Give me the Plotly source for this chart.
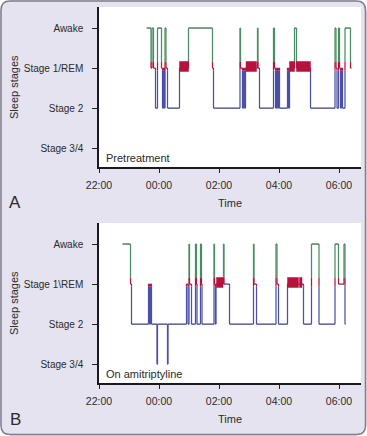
import plotly.graph_objects as go
from datetime import datetime

# ---------------- data ----------------
stage_ticktext_a = ["Stage 3/4", "Stage 2", "Stage 1/REM", "Awake"]
stage_ticktext_b = ["Stage 3/4", "Stage 2", "Stage 1\\REM", "Awake"]
stage_tickvals = [1, 2, 3, 4]
stage_level = {"S34": 1, "S2": 2, "S1": 3, "W": 4}

# Panel A (pretreatment): stage change points
a_times = ["23:35", "23:44", "23:46", "23:49", "23:53", "23:57", "00:05", "00:07",
           "00:09", "00:11", "00:12", "00:14", "00:17", "00:41", "00:59", "01:47",
           "01:49", "02:42", "02:43", "02:47", "02:49", "02:51", "02:53", "03:17",
           "03:18", "03:21", "03:49", "03:51", "03:53", "03:55", "03:57", "03:59",
           "04:01", "04:17", "04:19", "04:21", "04:31", "04:35", "05:03", "05:52",
           "05:54", "05:56", "05:59", "06:01", "06:03", "06:05", "06:07", "06:12",
           "06:23"]
a_stages = ["W", "S1", "W", "S1", "S2", "W", "S1", "S2",
            "S1", "S2", "W", "S1", "S2", "S1", "W", "S1",
            "S2", "W", "S1", "S2", "S1", "S2", "S1", "W",
            "S1", "S2", "W", "S1", "S2", "S1", "S2", "S1",
            "S2", "S1", "S2", "S1", "W", "S1", "S2", "W",
            "S1", "S2", "W", "S1", "S2", "S1", "S2", "W",
            "S1"]
a_end = "06:25"
a_rem_start = ["00:41", "02:54", "04:21", "04:35"]
a_rem_end = ["00:59", "03:15", "04:31", "05:03"]

# Panel B (on amitriptyline)
b_times = ["22:47", "23:03", "23:05", "23:39", "23:41", "23:43", "23:45", "23:56",
           "23:57", "00:17", "00:18", "00:55", "00:58", "01:00", "01:01", "01:05",
           "01:13", "01:15", "01:16", "01:23", "01:25", "01:26", "01:50", "01:51",
           "01:53", "01:54", "02:09", "02:10", "02:21", "03:09", "03:10", "03:15",
           "03:54", "03:56", "03:59", "04:17", "04:49", "05:05", "05:20", "05:52",
           "05:59", "06:10", "06:12"]
b_stages = ["W", "S1", "S2", "S1", "S2", "S1", "S2", "S34",
            "S2", "S34", "S2", "S1", "S2", "W", "S1", "S2",
            "W", "S1", "S2", "W", "S1", "S2", "W", "S1",
            "S2", "S1", "W", "S1", "S2", "W", "S1", "S2",
            "W", "S1", "S2", "S1", "S2", "W", "S2", "W",
            "S1", "W", "S2"]
b_end = "06:13"
b_rem_start = ["01:55", "04:17", "04:41"]
b_rem_end = ["02:08", "04:39", "04:46"]

x_start, x_stop = "22:00", "06:44"

# ---------------- styling ----------------
W, H = 367, 436
COLORS = {"g": "#4a8c61", "gh": "#2f6443", "r": "#b5123d",
          "b": "#4b50a6", "bh": "#3a3d80"}
RED = COLORS["r"]
BG = "#e5e3ef"
FONT = "Liberation Sans, Arial, sans-serif"
TXT = "#2b2b2b"
RED_LO, RED_HI = 2.94, 3.15  # colour band around Stage 1


def to_dt(hhmm):
    h, m = map(int, hhmm.split(":"))
    day = 1 if h >= 12 else 2
    return datetime(2000, 1, day, h, m)


def band_color(y):
    if y > RED_HI:
        return "g"
    if y >= RED_LO:
        return "r"
    return "b"


def build_paths(times, stages, end):
    segs = {k: ([], []) for k in COLORS}

    def add(c, x0, y0, x1, y1):
        xs, ys = segs[c]
        xs += [x0, x1, None]
        ys += [y0, y1, None]

    ts = [to_dt(t) for t in times] + [to_dt(end)]
    lv = [stage_level[s] for s in stages]
    for i, L in enumerate(lv):
        t0, t1 = ts[i], ts[i + 1]
        add("gh" if L == 4 else "bh", t0, L, t1, L)
        if i + 1 < len(lv):
            L2 = lv[i + 1]
            lo, hi = min(L, L2), max(L, L2)
            pts = sorted({lo, hi} | {b for b in (RED_LO, RED_HI) if lo < b < hi})
            for y0, y1 in zip(pts[:-1], pts[1:]):
                add(band_color((y0 + y1) / 2), t1, y0, t1, y1)
    return segs


def add_panel(fig, times, stages, end, rs, re_, xa, ya):
    segs = build_paths(times, stages, end)
    for c in ("bh", "gh", "b", "g", "r"):
        xs, ys = segs[c]
        fig.add_trace(go.Scatter(x=xs, y=ys, mode="lines", xaxis=xa, yaxis=ya,
                                 line=dict(color=COLORS[c], width=1.25),
                                 hoverinfo="skip", showlegend=False))
    for s, e in zip(rs, re_):
        x0, x1 = to_dt(s), to_dt(e)
        c, h = 3.04, 0.125
        fig.add_trace(go.Scatter(x=[x0, x1, x1, x0, x0], y=[c - h, c - h, c + h, c + h, c - h],
                                 mode="lines", fill="toself", fillcolor=RED,
                                 line=dict(color=RED, width=0.5), xaxis=xa, yaxis=ya,
                                 hoverinfo="skip", showlegend=False))


fig = go.Figure()
add_panel(fig, a_times, a_stages, a_end, a_rem_start, a_rem_end, "x", "y")
add_panel(fig, b_times, b_stages, b_end, b_rem_start, b_rem_end, "x2", "y2")


def px(x):
    return x / W


def py(y):
    return 1 - y / H


xcommon = dict(type="date", range=[to_dt(x_start), to_dt(x_stop)], tick0=to_dt("22:00"),
               dtick=7200000, tickformat="%H:%M", ticks="outside", ticklen=4, tickwidth=1,
               tickcolor="#222", showline=True, linecolor="#1a1a1a", linewidth=1.7,
               showgrid=False, zeroline=False, tickfont=dict(family=FONT, size=10.5, color=TXT),
               ticklabelstandoff=4, fixedrange=True, automargin=False)
ycommon = dict(range=[0.53, 4.525], tickvals=stage_tickvals, ticks="outside", ticklen=5,
               tickwidth=1, tickcolor="#222", showline=True, linecolor="#1a1a1a",
               linewidth=1.5, showgrid=False, zeroline=False,
               tickfont=dict(family=FONT, size=10, color=TXT), ticklabelstandoff=7,
               fixedrange=True, automargin=False)

fig.update_layout(
    width=W, height=H, margin=dict(l=0, r=0, t=0, b=0, autoexpand=False),
    paper_bgcolor=BG, plot_bgcolor="white", showlegend=False,
    xaxis=dict(xcommon, domain=[px(99), px(361)], anchor="y"),
    yaxis=dict(ycommon, domain=[py(167), py(7)], anchor="x", ticktext=stage_ticktext_a),
    xaxis2=dict(xcommon, domain=[px(99), px(361)], anchor="y2"),
    yaxis2=dict(ycommon, domain=[py(383), py(223)], anchor="x2", ticktext=stage_ticktext_b),
)

ann = []
for off, letter, label in ((0, "A", "Pretreatment"), (216, "B", "On amitriptyline")):
    ann.append(dict(text="Sleep stages", x=px(14), y=py(87 + off), textangle=-90,
                    font=dict(family=FONT, size=11, color=TXT)))
    ann.append(dict(text="Time", x=px(230), y=py(203 + off),
                    font=dict(family=FONT, size=11, color=TXT)))
    ann.append(dict(text=letter, x=px(15), y=py(203 + off),
                    font=dict(family=FONT, size=17, color=TXT)))
    ann.append(dict(text=label, x=px(104), y=py(158 + off), xanchor="left",
                    font=dict(family=FONT, size=11, color=TXT)))
for a in ann:
    a.update(xref="paper", yref="paper", showarrow=False)
    a.setdefault("xanchor", "center")
    a["yanchor"] = "middle"
fig.update_layout(annotations=ann)

# rounded frame
x0, y0, x1, y1, r = 1.0, 1.0, 365.5, 434.5, 9
frame = (f"M {px(x0 + r)},{py(y0)} L {px(x1 - r)},{py(y0)} Q {px(x1)},{py(y0)} {px(x1)},{py(y0 + r)} "
         f"L {px(x1)},{py(y1 - r)} Q {px(x1)},{py(y1)} {px(x1 - r)},{py(y1)} "
         f"L {px(x0 + r)},{py(y1)} Q {px(x0)},{py(y1)} {px(x0)},{py(y1 - r)} "
         f"L {px(x0)},{py(y0 + r)} Q {px(x0)},{py(y0)} {px(x0 + r)},{py(y0)} Z")
corners = [
    f"M {px(0)},{py(0)} L {px(x0 + r)},{py(0)} L {px(x0 + r)},{py(y0)} Q {px(x0)},{py(y0)} {px(x0)},{py(y0 + r)} L {px(0)},{py(y0 + r)} Z",
    f"M {px(W)},{py(0)} L {px(x1 - r)},{py(0)} L {px(x1 - r)},{py(y0)} Q {px(x1)},{py(y0)} {px(x1)},{py(y0 + r)} L {px(W)},{py(y0 + r)} Z",
    f"M {px(0)},{py(H)} L {px(x0 + r)},{py(H)} L {px(x0 + r)},{py(y1)} Q {px(x0)},{py(y1)} {px(x0)},{py(y1 - r)} L {px(0)},{py(y1 - r)} Z",
    f"M {px(W)},{py(H)} L {px(x1 - r)},{py(H)} L {px(x1 - r)},{py(y1)} Q {px(x1)},{py(y1)} {px(x1)},{py(y1 - r)} L {px(W)},{py(y1 - r)} Z",
]
shapes = [dict(type="path", path=p, xref="paper", yref="paper", fillcolor="white",
               line=dict(width=0), layer="below") for p in corners]
shapes.append(dict(type="path", path=frame, xref="paper", yref="paper",
                   line=dict(color="#7f7e8a", width=1.5), layer="below"))
fig.update_layout(shapes=shapes)

post = ("document.documentElement.style.margin='0';document.body.style.margin='0';"
        "document.body.style.padding='0';document.body.style.overflow='hidden';"
        "var d=document.getElementById('{plot_id}');d.style.position='absolute';"
        "d.style.left='0px';d.style.top='0px';")
fig.write_html("out.html", post_script=post, config={"displayModeBar": False})
